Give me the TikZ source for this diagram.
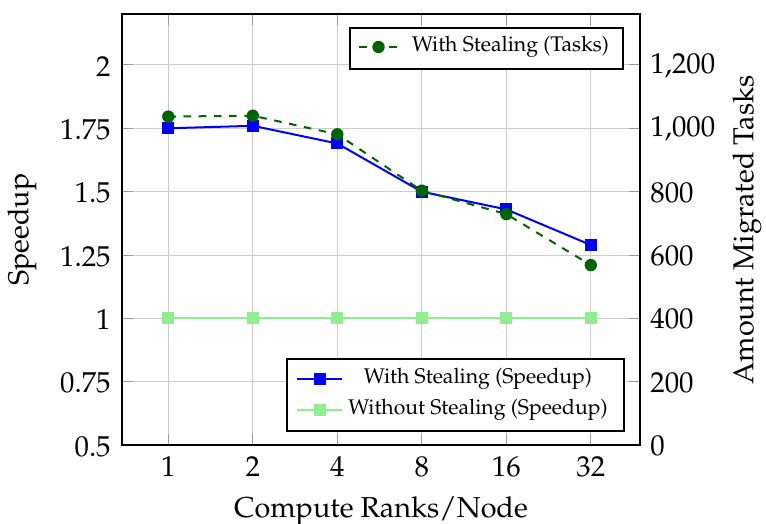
\documentclass[tikz,border=0pt]{standalone}
\usepackage[T1]{fontenc}
\usepackage{mathpazo}
\definecolor{taskgreen}{RGB}{0,100,0}
\definecolor{lgreen}{RGB}{144,238,144}
\begin{document}
\begin{tikzpicture}[x=0.5pt,y=-0.5pt,
  every node/.style={font=\fontsize{14.4}{17}\selectfont, inner sep=0pt},
  legtext/.style={font=\fontsize{10.6}{13}\selectfont},
  gridline/.style={draw=gray!40,line width=0.5pt},
  tickmark/.style={draw=gray!80,line width=0.5pt},
  frameline/.style={draw=black,line width=1.1pt},
  speedline/.style={draw=blue,line width=1pt},
  flatline/.style={draw=lgreen,line width=1pt},
  taskline/.style={draw=taskgreen,line width=1pt,dash pattern=on 3.8pt off 3.8pt},
  sqmark/.style={rectangle,minimum size=6pt,inner sep=0pt,fill=#1},
  cmark/.style={circle,minimum size=6.2pt,inner sep=0pt,fill=taskgreen},
  legbox/.style={draw=black,line width=1pt,fill=white}
]
\useasboundingbox (0,0) rectangle (766,524);
% grid
\foreach \x in {168.3,252.8,337.3,421.8,506.3,590.8}
  \draw[gridline] (\x,14) -- (\x,445);
\foreach \y in {65,128.3,191.7,255,318.3,381.7}
  \draw[gridline] (122,\y) -- (640,\y);
% ticks
\foreach \x in {168.3,252.8,337.3,421.8,506.3,590.8}{
  \draw[tickmark] (\x,445) -- (\x,434);
  \draw[tickmark] (\x,14) -- (\x,25);}
\foreach \y in {65,128.3,191.7,255,318.3,381.7,445}{
  \draw[tickmark] (122,\y) -- (133,\y);
  \draw[tickmark] (640,\y) -- (629,\y);}
% tick labels
\foreach \y/\t [count=\i] in {65/2,128.3/1.75,191.7/1.5,255/1.25,318.3/1,381.7/0.75,445/0.5}
  \node[anchor=east] (yl\i) at (111,\y+1.5) {\t};
\foreach \y/\t [count=\i] in {65/{1,200},128.3/{1,000},191.7/800,255/600,318.3/400,381.7/200,445/0}
  \node[anchor=west] (yr\i) at (650,\y+1) {\t};
\foreach \x/\t [count=\i] in {168.3/1,252.8/2,337.3/4,421.8/8,506.3/16,590.8/32}
  \node[anchor=base] (xl\i) at (\x,476) {\t};
% axis labels
\node[rotate=90] (ylab) at (22,229.5) {Speedup};
\node[rotate=90] (yrlab) at (747,230) {Amount Migrated Tasks};
\node[anchor=base] (xlab) at (381,517) {Compute Ranks/Node};
% with stealing speedup
\foreach \x/\y [count=\i] in {168.3/128.3,252.8/125.8,337.3/143.5,421.8/191.7,506.3/209.4,590.8/245}
  \coordinate (b\i) at (\x,\y);
\draw[speedline] (b1) -- (b2) -- (b3) -- (b4) -- (b5) -- (b6);
\foreach \i in {1,...,6} \node[sqmark=blue] (bm\i) at (b\i) {};
% without stealing
\foreach \x [count=\i] in {168.3,252.8,337.3,421.8,506.3,590.8}
  \coordinate (l\i) at (\x,318.3);
\draw[flatline] (l1) -- (l2) -- (l3) -- (l4) -- (l5) -- (l6);
\foreach \i in {1,...,6} \node[sqmark=lgreen] (lm\i) at (l\i) {};
% tasks
\foreach \x/\y [count=\i] in {168.3/116.6,252.8/115.7,337.3/134.3,421.8/190.7,506.3/214.1,590.8/265.1}
  \coordinate (g\i) at (\x,\y);
\draw[taskline] (g1) -- (g2) -- (g3) -- (g4) -- (g5) -- (g6);
\foreach \i in {1,...,6} \node[cmark] (gm\i) at (g\i) {};
% frame
\draw[frameline] (122,14) rectangle (640,445);
% legend 1
\draw[legbox] (350,28) rectangle (623,69);
\coordinate (t1a) at (359,47); \coordinate (t1b) at (397,47);
\draw[taskline] (t1a) -- (t1b);
\node[cmark] (t1m) at (378.5,47) {};
\node[legtext] (t1t) at (510.5,47) {With Stealing (Tasks)};
% legend 2
\draw[legbox] (287,359) rectangle (624,431);
\coordinate (s1a) at (297,379); \coordinate (s1b) at (342,379);
\draw[speedline] (s1a) -- (s1b);
\node[sqmark=blue] (s1m) at (319.5,379) {};
\node[legtext] (s1t) at (478,379) {With Stealing (Speedup)};
\coordinate (s2a) at (297,410); \coordinate (s2b) at (342,410);
\draw[flatline] (s2a) -- (s2b);
\node[sqmark=lgreen] (s2m) at (319.5,410) {};
\node[legtext] (s2t) at (478,410) {Without Stealing (Speedup)};
\end{tikzpicture}
\end{document}
